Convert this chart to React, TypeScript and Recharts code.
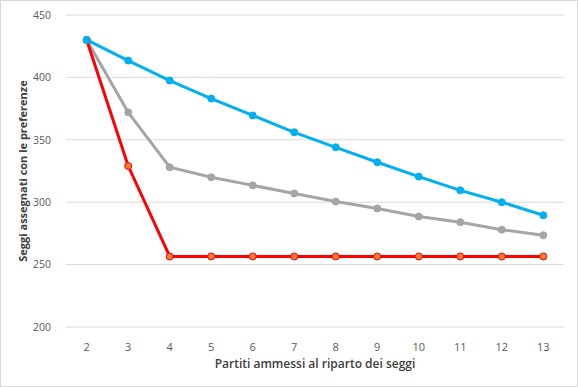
import React from "react";
import { LineChart, Line, XAxis, YAxis, CartesianGrid } from "recharts";

const partiti = [2, 3, 4, 5, 6, 7, 8, 9, 10, 11, 12, 13];
const serieBlu = [430, 413.5, 397.5, 383, 369.5, 356, 344, 332, 320.5, 309.5, 300, 289.5];
const serieGrigia = [430, 372, 328, 320, 313.5, 307, 300.5, 295, 288.5, 284, 278, 273.5];
const serieRossa = [430, 329, 256.5, 256.5, 256.5, 256.5, 256.5, 256.5, 256.5, 256.5, 256.5, 256.5];
const yTicks = [200, 250, 300, 350, 400, 450];

const data = partiti.map((p, i) => ({
  partiti: p,
  blu: serieBlu[i],
  grigia: serieGrigia[i],
  rossa: serieRossa[i],
}));

const font = "'Open Sans', 'Noto Sans', sans-serif";

export default function App() {
  return (
    <div
      style={{
        position: "absolute",
        left: 0,
        top: 0,
        width: 576,
        height: 385,
        border: "1px solid #D9D9D9",
        background: "#fff",
        fontFamily: font,
      }}
    >
      <div style={{ position: "absolute", left: -1, top: -1 }}>
        <LineChart
          width={578}
          height={387}
          data={data}
          margin={{ top: 15, right: 14, left: 0, bottom: 0 }}
        >
          <CartesianGrid vertical={false} stroke="#D9D9D9" strokeWidth={1} />
          <XAxis
            dataKey="partiti"
            type="category"
            padding={{ left: 20.7, right: 20.7 }}
            axisLine={false}
            tickLine={false}
            height={60}
            tick={{ fill: "#595959", fontSize: 11, fontFamily: font }}
            tickMargin={10}
            label={{
              value: "Partiti ammessi al riparto dei seggi",
              position: "insideBottom",
              offset: 19,
              fill: "#404040",
              fontSize: 12,
              fontWeight: 600,
              fontFamily: font,
            }}
          />
          <YAxis
            domain={[200, 450]}
            ticks={yTicks}
            width={66}
            axisLine={false}
            tickLine={false}
            tick={{ fill: "#595959", fontSize: 10.5, fontFamily: font }}
            tickMargin={9}
            label={{
              value: "Seggi assegnati con le preferenze",
              angle: -90,
              position: "insideLeft",
              offset: 23,
              style: { textAnchor: "middle" },
              fill: "#404040",
              fontSize: 11,
              fontWeight: 700,
              fontFamily: font,
            }}
          />
          <Line
            dataKey="grigia"
            stroke="#A5A5A5"
            strokeWidth={3}
            dot={{ r: 3.5, fill: "#A5A5A5", stroke: "#A5A5A5", strokeWidth: 1 }}
            isAnimationActive={false}
          />
          <Line
            dataKey="rossa"
            stroke="#FF0000"
            strokeWidth={3}
            dot={{ r: 3.5, fill: "#ED7D31", stroke: "#FF0000", strokeWidth: 1 }}
            isAnimationActive={false}
          />
          <Line
            dataKey="blu"
            stroke="#00B0F0"
            strokeWidth={3}
            dot={{ r: 3.5, fill: "#00B0F0", stroke: "#00B0F0", strokeWidth: 1 }}
            isAnimationActive={false}
          />
        </LineChart>
      </div>
    </div>
  );
}
